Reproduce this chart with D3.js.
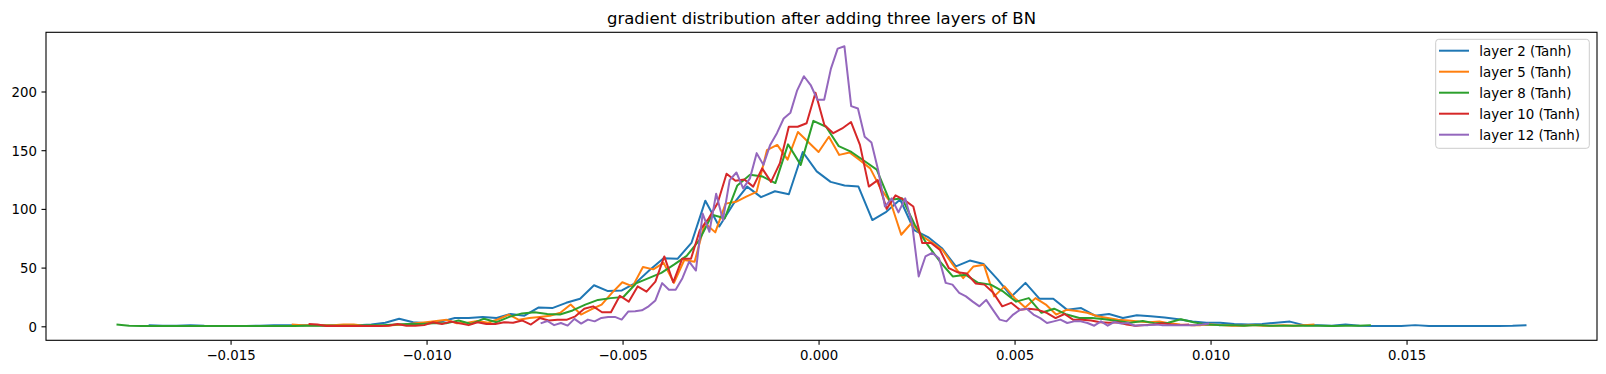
<!DOCTYPE html>
<html>
<head>
<meta charset="utf-8">
<script src="https://cdn.jsdelivr.net/npm/d3@7"></script>
<style>
  body { margin: 0; background: #fff; }
  text { font-family: "DejaVu Sans", sans-serif; fill: #000; }
</style>
</head>
<body>
<div id="my_dataviz"></div>
<script>
// chart data
var title = "gradient distribution after adding three layers of BN";
var layerNames = ["layer 2 (Tanh)", "layer 5 (Tanh)", "layer 8 (Tanh)", "layer 10 (Tanh)", "layer 12 (Tanh)"];
var layerColors = ["#1f77b4", "#ff7f0e", "#2ca02c", "#d62728", "#9467bd"];
// first and last bin edge of each histogram (100 bins each)
var binStart = [-0.01709, -0.01344, -0.01791, -0.01301, -0.00709];
var binEnd = [0.01806, 0.01265, 0.01409, 0.00945, 0.00996];

var layer2 = [1, 0.5, 0.5, 1, 0.5, 0.3, 0.3, 0.3, 0.5, 1,
    1, 1, 1, 1, 1, 1, 1.5, 3, 6.5, 3.5,
    2.5, 4, 7, 7, 8, 7, 10.5, 9, 16, 15.5,
    20, 23.5, 35, 30, 30.5, 37, 48, 58, 57.5, 71,
    107, 85, 104, 119, 110, 115, 112.5, 148.5, 132, 123,
    120, 119, 90.5, 97.5, 108, 82, 76, 66.5, 51, 56,
    53, 40, 25.5, 37, 23.5, 23.5, 14, 15.5, 9, 10.5,
    7, 9.5, 8.5, 7.5, 6, 4, 3, 3, 2, 1.5,
    2, 3, 4, 1, 1, 0.5, 1.5, 0.5, 0.3, 0.3,
    0.3, 1, 0.3, 0.3, 0.3, 0.3, 0.3, 0.3, 0.5, 1];
var layer5 = [1.5, 1, 1, 1, 1, 1.5, 1.5, 0.5, 0.5, 0.5,
    1, 1.5, 2.5, 3.5, 4.5, 5.5, 2.5, 3, 4.5, 3,
    6, 10, 5.5, 7, 8, 9, 11.5, 18.5, 10, 14.5,
    18.5, 28.5, 37.5, 34, 50.5, 48.5, 54, 37, 56.5, 55,
    88, 80, 104.5, 106, 110.5, 114.5, 150, 154.5, 142, 165.5,
    157, 148.5, 161.5, 146, 148, 141.5, 134.5, 117.5, 105, 78,
    88, 77, 71, 65, 52.5, 41, 51, 52.5, 25.5, 34,
    24, 16, 24, 18.5, 10, 14, 13, 11.5, 8.5, 7,
    5.5, 5, 4, 3.5, 4, 2.5, 1.5, 1, 1, 1.5,
    1, 0.5, 0.5, 1, 0.5, 0.5, 1, 0.5, 1, 1.5];
var layer8 = [1.5, 0.5, 0.3, 0.3, 0.3, 0.3, 0.3, 0.3, 0.3, 0.3,
    0.3, 0.3, 0.3, 0.3, 0.3, 0.5, 0.5, 0.5, 0.5, 0.5,
    1, 1, 1.5, 2, 2, 2.5, 2.5, 5, 2, 6.5,
    3.5, 8, 11, 12, 10.5, 10, 13.5, 18.5, 22.5, 24,
    25, 36.5, 41, 45.5, 52.5, 60, 73.5, 95, 92, 120,
    129, 127.5, 122, 155, 137.5, 175, 170, 153.5, 148.5, 141,
    133.5, 107.5, 109, 86.5, 69.5, 55, 42.5, 44, 37, 35.5,
    29.5, 21, 24, 11.5, 15, 10, 7, 7, 6, 4.5,
    3, 4.5, 2.5, 3, 6, 3.5, 1.5, 1, 1, 0.5,
    1, 0.5, 0.5, 0.5, 0.5, 0.5, 0.3, 0.5, 0.5, 1];
var layer10 = [2, 1.5, 0.3, 0.3, 0.3, 0.3, 0.3, 0.3, 0.3, 0.5,
    2, 0.5, 0.5, 1, 3.5, 2, 4, 2.5, 1, 3.5,
    2, 2, 3.5, 3, 5, 1.5, 7, 5, 5.5, 5.5,
    8.5, 15, 17, 12, 12, 26, 21, 34, 29.5, 38,
    59.5, 37.5, 57.5, 57.5, 82, 92, 105, 130, 124, 125,
    119, 134.5, 123, 139, 170, 170, 173, 199, 171.5, 164.5,
    168.5, 174, 154.5, 119, 124.5, 100, 111.5, 107.5, 102, 71,
    71, 65, 49.5, 46, 45, 36.5, 35.5, 28.5, 17, 20,
    14, 15, 14, 11.5, 7, 10.5, 5.5, 5.5, 5, 3.5,
    3, 3.5, 1.5, 0.5, 1, 1.5, 2.5, 1.5, 1, 1.5];
var layer12 = [2.5, 4.5, 1, 2.8, 0.6, 6.3, 2.3, 5.7, 4.2, 7.1,
    8, 8, 5.7, 12.7, 12.9, 13.6, 17, 22, 36.8, 31.2,
    31.2, 41, 55, 47.5, 96, 80.5, 113, 90.5, 124.5, 131,
    117.5, 126, 147.5, 137.5, 154.5, 164.5, 177, 182, 201, 213,
    205.5, 193, 193, 219.5, 236.5, 238.5, 187.5, 185.5, 161.5, 156.5,
    133, 102, 109, 97, 109, 88, 42.5, 59.5, 62.5, 58,
    37, 35.5, 28.5, 25.5, 21, 17, 22.5, 14, 5.7, 4.2,
    10, 14, 15, 10, 7, 2.8, 4.2, 5.7, 2.8, 4.2,
    4.2, 2.8, 0.5, 4.2, 0.5, 3.7, 2.3, 2.8, 0.5, 1,
    1, 1.5, 1, 1, 1, 1, 1, 1, 1.5, 2.3];

var xTicks = [-0.015, -0.010, -0.005, 0.000, 0.005, 0.010, 0.015];
var yTicks = [0, 50, 100, 150, 200];

var width = 1606;
var height = 374;
var plotLeft = 46, plotRight = 1597, plotTop = 32.3, plotBottom = 340.3;
var svg;

document.addEventListener('DOMContentLoaded', function () {
    svg = d3.select("#my_dataviz")
        .append("svg")
        .attr("width", width)
        .attr("height", height);

    svg.append("rect").attr("width", width).attr("height", height).attr("fill", "#fff");

    var allCounts = [layer2, layer5, layer8, layer10, layer12];

    // build the (edge, count) points of every histogram
    var series = allCounts.map(function (counts, s) {
        var step = (binEnd[s] - binStart[s]) / (counts.length - 1);
        return counts.map(function (c, i) { return { x: binStart[s] + i * step, y: c }; });
    });

    // matplotlib style 5% margins
    var xmin = d3.min(binStart), xmax = d3.max(binEnd);
    var xpad = (xmax - xmin) * 0.05;
    var ymax = d3.max(allCounts, function (c) { return d3.max(c); });
    var ypad = ymax * 0.05;

    var xScale = d3.scaleLinear().domain([xmin - xpad, xmax + xpad]).range([plotLeft, plotRight]);
    var yScale = d3.scaleLinear().domain([0 - ypad, ymax + ypad]).range([plotBottom, plotTop]);

    var line = d3.line()
        .x(function (d) { return xScale(d.x); })
        .y(function (d) { return yScale(d.y); });

    svg.selectAll(".hist")
        .data(series)
        .enter()
        .append("path")
        .attr("class", "hist")
        .attr("d", line)
        .attr("fill", "none")
        .attr("stroke", function (d, i) { return layerColors[i]; })
        .attr("stroke-width", 2)
        .attr("stroke-linejoin", "round");

    // axes
    var fmt = function (d) { return d3.format(".3f")(d).replace("-", "\u2212"); };

    var xAxis = svg.append("g")
        .attr("transform", "translate(0," + plotBottom + ")")
        .call(d3.axisBottom(xScale).tickValues(xTicks).tickFormat(fmt).tickSize(4.5).tickSizeOuter(0));
    xAxis.select(".domain").remove();
    xAxis.selectAll("line").attr("stroke", "#000").attr("stroke-width", 1.1);
    xAxis.selectAll("text").attr("y", 19.8).attr("dy", null)
        .style("font-size", "13.3px").style("font-family", "DejaVu Sans");

    var yAxis = svg.append("g")
        .attr("transform", "translate(" + plotLeft + ",0)")
        .call(d3.axisLeft(yScale).tickValues(yTicks).tickSize(4.5).tickPadding(4.5).tickSizeOuter(0));
    yAxis.select(".domain").remove();
    yAxis.selectAll("line").attr("stroke", "#000").attr("stroke-width", 1.1);
    yAxis.selectAll("text").attr("dy", "0.38em")
        .style("font-size", "13.3px").style("font-family", "DejaVu Sans");

    // frame
    svg.append("rect")
        .attr("x", plotLeft).attr("y", plotTop)
        .attr("width", plotRight - plotLeft).attr("height", plotBottom - plotTop)
        .attr("fill", "none").attr("stroke", "#000").attr("stroke-width", 1.1);

    // title
    svg.append("text")
        .attr("x", (plotLeft + plotRight) / 2).attr("y", 23.5)
        .style("text-anchor", "middle").style("font-size", "16.5px")
        .text(title);

    // legend
    var legend = svg.append("g");
    legend.append("rect")
        .attr("x", 1435.7).attr("y", 39.3).attr("width", 153.6).attr("height", 109)
        .attr("rx", 3).attr("fill", "#fff").attr("fill-opacity", 0.8)
        .attr("stroke", "#cccccc").attr("stroke-width", 1);

    layerNames.forEach(function (name, i) {
        var ly = 50.7 + i * 21;
        legend.append("line")
            .attr("x1", 1439).attr("x2", 1469).attr("y1", ly).attr("y2", ly)
            .attr("stroke", layerColors[i]).attr("stroke-width", 2);
        legend.append("text")
            .attr("x", 1479.3).attr("y", ly).attr("dy", "0.36em")
            .style("font-size", "13.4px")
            .text(name);
    });
});
</script>
</body>
</html>
